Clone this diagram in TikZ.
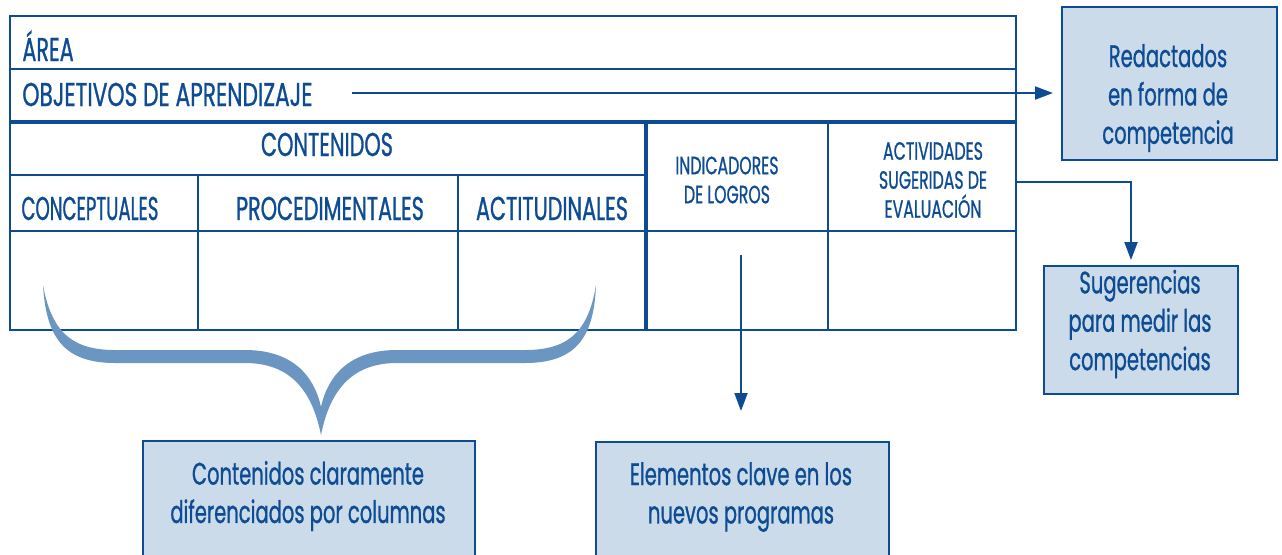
\documentclass[tikz,border=0pt]{standalone}
\usepackage{fontspec}
\setmainfont{Poppins}
\newfontfamily\cf[FakeStretch=0.63,FakeBold=0.8]{Poppins}
\newfontfamily\cfn[FakeStretch=0.55,FakeBold=0.8]{Poppins}
\newfontfamily\cfw[FakeStretch=0.66,FakeBold=0.8]{Poppins}
\usetikzlibrary{arrows.meta}
\definecolor{navy}{HTML}{0D4B93}
\definecolor{pale}{HTML}{CBDBEA}
\definecolor{bracec}{HTML}{6B96C1}
\begin{document}
\begin{tikzpicture}[x=0.5pt,y=-0.5pt,
  gridline/.style={draw=navy, line width=1.25pt},
  heavyline/.style={draw=navy, line width=2pt},
  lbl/.style={text=navy, font=\cf\fontsize{16.5}{19}\selectfont, inner sep=0pt},
  smalllbl/.style={text=navy, font=\cf\fontsize{12.5}{14.5}\selectfont, align=center, inner sep=0pt},
  notebox/.style={draw=navy, line width=1.2pt, fill=pale, anchor=north west, inner sep=0pt},
  notetext/.style={text=navy, align=center, inner sep=0pt, font=\cf\fontsize{15.5}{19.2}\selectfont},
  arr/.style={draw=navy, line width=1pt, -{Triangle[length=9pt,width=6.5pt]}}]
\useasboundingbox (0,0) rectangle (1282,554);

% table
\draw[gridline] (10,16) rectangle (1016,330);
\draw[gridline] (10,69) -- (1016,69);
\draw[heavyline] (10,122) -- (1016,122);
\draw[gridline] (10,175) -- (646,175);
\draw[gridline] (10,231) -- (1016,231);
\draw[gridline] (198,175) -- (198,330);
\draw[gridline] (458,175) -- (458,330);
\draw[heavyline] (646,122) -- (646,330);
\draw[gridline] (828,122) -- (828,330);

% table labels
\node[lbl, anchor=base west] (area) at (22,61) {ÁREA};
\node[lbl, anchor=base west, font=\cfw\fontsize{16.5}{19}\selectfont] (obj) at (22,106) {OBJETIVOS DE APRENDIZAJE};
\node[lbl, anchor=base] (cont) at (327,156) {CONTENIDOS};
\node[lbl, anchor=base, font=\cfn\fontsize{16.5}{19}\selectfont] (conc) at (90,220) {CONCEPTUALES};
\node[lbl, anchor=base] (proc) at (330,220) {PROCEDIMENTALES};
\node[lbl, anchor=base] (acti) at (552,220) {ACTITUDINALES};
\node[smalllbl] (ind) at (727,180) {INDICADORES\\DE LOGROS};
\node[smalllbl] (act) at (933,180) {ACTIVIDADES\\SUGERIDAS DE\\EVALUACIÓN};

% brace
\fill[bracec] (43,285) .. controls (46,335) and (62,363) .. (115,363) -- (245,363)
  .. controls (290,363) and (312,390) .. (321,435)
  .. controls (330,390) and (352,363) .. (397,363) -- (525,363)
  .. controls (578,363) and (594,335) .. (596,285)
  .. controls (588,335) and (565,350) .. (525,350) -- (397,350)
  .. controls (350,350) and (328,375) .. (321,407)
  .. controls (314,375) and (292,350) .. (245,350) -- (115,350)
  .. controls (75,350) and (52,335) .. (43,285) -- cycle;

% note boxes
\node[notebox, minimum width=107.5pt, minimum height=76.5pt] (red) at (1061,6) {};
\node[notetext] (redt) at (1168,98) {Redactados\\en forma de\\competencia};
\node[notebox, minimum width=97pt, minimum height=64pt] (sug) at (1043,265) {};
\node[notetext] (sugt) at (1140,324) {Sugerencias\\para medir las\\competencias};
\node[notebox, minimum width=166pt, minimum height=60pt] (cla) at (142,440) {};
\node[notetext] (clat) at (308,496) {Contenidos claramente\\diferenciados por columnas};
\node[notebox, minimum width=146.5pt, minimum height=60pt] (ele) at (595,441) {};
\node[notetext] (elet) at (741,497) {Elementos clave en los\\nuevos programas};

% connectors
\coordinate (objend) at (352,93);
\coordinate (actout) at (1016,182);
\coordinate (turn) at (1131,182);
\coordinate (indstart) at (741,255);
\draw[arr, shorten >=4pt] (objend) -- (objend -| red.west);
\draw[arr, shorten >=2.5pt] (actout) -- (turn) -- (turn |- sug.north);
\draw[arr, shorten >=15pt] (indstart) -- (indstart |- ele.north);
\end{tikzpicture}
\end{document}
